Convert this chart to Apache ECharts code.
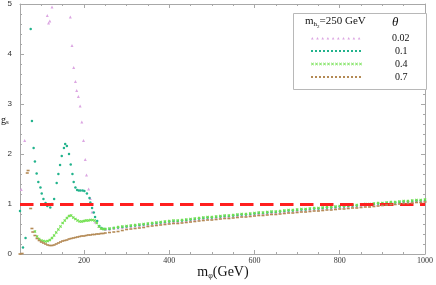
<!DOCTYPE html>
<html>
<head>
<meta charset="utf-8">
<script src="https://cdn.jsdelivr.net/npm/echarts@6/dist/echarts.min.js"></script>
<style>html,body{margin:0;padding:0;background:#fff}#c{width:436px;height:285px}</style>
</head>
<body>
<div id="c"></div>
<script>
// ---- data ----
const xTickLabels = [200, 400, 600, 800, 1000];
const refLine = [1];
const thetaNames = ['0.02', '0.1', '0.4', '0.7'];

// high-mass common grid (GeV)
const massHigh = [250,260,270,280,290,300,310,320,330,340,350,360,370,380,390,400,410,420,430,440,450,460,470,480,490,500,510,520,530,540,550,560,570,580,590,600,610,620,630,640,650,660,670,680,690,700,710,720,730,740,750,760,770,780,790,800,810,820,830,840,850,860,870,880,890,900,910,920,930,940,950,960,970,980,990,1000];

// theta = 0.02
const massLow002 = [53,61,114,117,120,125,168,172,176,180,183,187,191,195,199,203,206,211,215,219,226,235,242];
const gLow002 = [1.29,2.27,4.77,4.62,4.66,4.94,4.74,4.17,3.73,3.45,3.27,3.15,2.96,2.64,2.27,1.89,1.58,1.30,1.11,0.84,0.64,0.55,0.51];
const gHigh002 = [.49,.50,.51,.52,.53,.54,.55,.56,.57,.58,.59,.60,.61,.62,.63,.64,.65,.65,.66,.67,.68,.69,.70,.71,.72,.72,.73,.74,.75,.75,.76,.77,.78,.78,.79,.80,.81,.81,.82,.83,.83,.84,.85,.86,.86,.87,.88,.88,.89,.90,.90,.91,.92,.92,.93,.94,.94,.95,.96,.96,.97,.98,.98,.99,1.00,1.00,1.01,1.02,1.02,1.03,1.04,1.04,1.05,1.06,1.06,1.07];

// theta = 0.1
const massLow01 = [50,57,63,75,78,82,85,89,93,98,101,105,110,114,121,125,130,136,140,144,148,153,156,160,165,169,173,176,180,184,188,192,197,201,207,213,215,219,223,226,231,236,241,245];
const gLow01 = [0.86,0.13,0.32,4.50,2.66,2.12,1.85,1.61,1.44,1.33,1.21,1.10,1.02,0.96,0.93,1.00,1.10,1.42,1.60,1.78,1.96,2.12,2.20,2.16,2.00,1.79,1.60,1.44,1.33,1.28,1.27,1.27,1.27,1.26,1.21,1.12,1.03,0.92,0.83,0.74,0.66,0.56,0.52,0.50];
const gHigh01 = [.50,.50,.52,.53,.54,.55,.56,.57,.58,.59,.60,.61,.62,.63,.64,.65,.66,.66,.67,.68,.69,.70,.71,.72,.73,.73,.74,.75,.76,.76,.77,.78,.79,.79,.80,.81,.82,.82,.83,.84,.84,.85,.86,.87,.87,.88,.89,.89,.90,.91,.91,.92,.93,.93,.94,.95,.95,.96,.97,.97,.98,.99,.99,1.00,1.01,1.01,1.02,1.03,1.03,1.04,1.05,1.05,1.06,1.07,1.07,1.08];

// theta = 0.4
const massLow04 = [85,90,95,100,105,110,115,120,125,130,135,140,145,150,155,160,165,170,175,180,185,190,195,200,205,210,215,220,225,230,235,240,245];
const gLow04 = [0.45,0.35,0.30,0.27,0.26,0.25,0.26,0.28,0.32,0.37,0.43,0.49,0.55,0.62,0.67,0.72,0.76,0.77,0.73,0.70,0.67,0.65,0.65,0.66,0.67,0.67,0.68,0.68,0.67,0.62,0.55,0.51,0.50];
const gHigh04 = [.50,.51,.52,.54,.55,.56,.57,.58,.59,.60,.61,.62,.63,.64,.65,.66,.67,.67,.68,.69,.70,.71,.72,.73,.74,.74,.75,.76,.77,.77,.78,.79,.80,.80,.81,.82,.83,.83,.84,.85,.85,.86,.87,.88,.88,.89,.90,.90,.91,.92,.92,.93,.94,.94,.95,.96,.96,.97,.98,.98,.99,1.00,1.00,1.01,1.02,1.02,1.03,1.04,1.04,1.05,1.06,1.06,1.07,1.08,1.08,1.09];

// theta = 0.7
const massLow07 = [50,55,67,69,75,78,80,85,90,95,100,105,110,115,120,125,130,135,140,145,150,155,160,165,170,175,180,185,190,195,200,205,210,215,220,225,230,235,240,245];
const gLow07 = [0.00,0.01,1.62,1.67,0.91,0.51,0.44,0.37,0.31,0.27,0.24,0.22,0.20,0.18,0.17,0.17,0.18,0.20,0.22,0.24,0.26,0.27,0.28,0.30,0.31,0.32,0.33,0.34,0.35,0.36,0.36,0.37,0.38,0.38,0.39,0.39,0.40,0.40,0.41,0.41];
const gHigh07 = [.42,.43,.44,.45,.47,.49,.50,.51,.52,.53,.55,.56,.57,.58,.59,.60,.61,.61,.62,.63,.64,.65,.66,.67,.68,.68,.69,.70,.71,.71,.72,.73,.74,.74,.75,.76,.77,.77,.78,.79,.79,.80,.81,.82,.82,.83,.84,.84,.85,.86,.86,.87,.88,.88,.89,.90,.90,.91,.92,.92,.93,.94,.94,.95,.96,.97,.98,.99,.99,1.00,1.01,1.01,1.02,1.03,1.03,1.04];

// ---- build ----
function pairs(mLow, gLow, gHigh) {
  const out = mLow.map((m, i) => [m, gLow[i]]);
  massHigh.forEach((m, i) => out.push([m, gHigh[i]]));
  return out;
}
const colors = ['#dca6e2', '#22b38c', '#72e050', '#b48a55'];
const xSym = 'path://M0,1L1,0L2,1L3,0L4,1L3,2L4,3L3,4L2,3L1,4L0,3L1,2Z';
const symbols = ['triangle', 'circle', xSym, 'rect'];
const symSizes = [3, 2.5, 3, [3, 1.6]];
const datasets = [
  pairs(massLow002, gLow002, gHigh002),
  pairs(massLow01, gLow01, gHigh01),
  pairs(massLow04, gLow04, gHigh04),
  pairs(massLow07, gLow07, gHigh07)
];

function iconPath(kind) {
  let p = 'path://';
  const n = kind === 0 ? 10 : 13;
  const step = 52 / n;
  for (let i = 0; i < n; i++) {
    const x = i * step;
    if (kind === 0) p += `M${x},3L${x+1.3},0.6L${x+2.6},3Z`;
    else if (kind === 2) p += `M${x},0.5L${x+0.5},0L${x+1.5},1L${x+2.5},0L${x+3},0.5L${x+2},1.5L${x+3},2.5L${x+2.5},3L${x+1.5},2L${x+0.5},3L${x},2.5L${x+1},1.5Z`;
    else p += `M${x},0.6h2v2h-2Z`;
  }
  p += 'M0,0h0.01v3h-0.01Z M51.99,0h0.01v3h-0.01Z';
  return p;
}

const serif = 'Liberation Serif';
const axisGray = '#a8a8a8';
const chart = echarts.init(document.getElementById('c'), null, {renderer: 'canvas'});

const series = datasets.map((d, k) => ({
  name: thetaNames[k],
  type: 'scatter',
  data: d,
  symbol: symbols[k],
  symbolSize: symSizes[k],
  itemStyle: {color: colors[k], opacity: 1},
  silent: true,
  animation: false,
  z: 2 + k
}));
series.push({
  type: 'line',
  data: [],
  silent: true,
  animation: false,
  z: 10,
  markLine: {
    silent: true,
    symbol: ['none', 'none'],
    label: {show: false},
    animation: false,
    lineStyle: {color: '#ff1f1f', width: 3, type: [13.5, 6.5]},
    data: refLine.map(v => ({yAxis: v}))
  }
});

const xBase = {type: 'value', min: 50, max: 1000, splitLine: {show: false}};
const yBase = {type: 'value', min: 0, max: 5, interval: 1, splitLine: {show: false}};

const option = {
  animation: false,
  grid: {left: 20, right: 3, top: 3, bottom: 31},
  xAxis: [
    Object.assign({}, xBase, {
      position: 'bottom', interval: 50,
      axisLine: {show: true, lineStyle: {color: axisGray}},
      axisTick: {show: true, inside: true, length: 2, lineStyle: {color: axisGray}},
      axisLabel: {customValues: xTickLabels, formatter: v => String(v), hideOverlap: false,
        fontFamily: serif, fontSize: 8, color: '#333', margin: 3}
    }),
    Object.assign({}, xBase, {
      position: 'bottom',
      axisLine: {show: false},
      axisTick: {show: true, inside: true, length: 4, customValues: xTickLabels, lineStyle: {color: axisGray}},
      axisLabel: {show: false}
    }),
    Object.assign({}, xBase, {
      position: 'top', interval: 50,
      axisLine: {show: true, lineStyle: {color: axisGray}},
      axisTick: {show: true, inside: true, length: 2, lineStyle: {color: axisGray}},
      axisLabel: {show: false}
    }),
    Object.assign({}, xBase, {
      position: 'top',
      axisLine: {show: false},
      axisTick: {show: true, inside: true, length: 4, customValues: xTickLabels, lineStyle: {color: axisGray}},
      axisLabel: {show: false}
    })
  ],
  yAxis: [
    Object.assign({}, yBase, {
      position: 'left',
      axisLine: {show: true, lineStyle: {color: axisGray}},
      axisTick: {show: true, inside: true, length: 4, lineStyle: {color: axisGray}},
      minorTick: {show: true, splitNumber: 5, length: 2, lineStyle: {color: axisGray}},
      axisLabel: {show: true, fontSize: 8, color: '#333', margin: 8}
    }),
    Object.assign({}, yBase, {
      position: 'right',
      axisLine: {show: true, lineStyle: {color: axisGray}},
      axisTick: {show: true, inside: true, length: 4, lineStyle: {color: axisGray}},
      minorTick: {show: true, splitNumber: 5, length: 2, lineStyle: {color: axisGray}},
      axisLabel: {show: false}
    })
  ],
  legend: {
    orient: 'vertical',
    left: 306, top: 28,
    itemWidth: 52, itemHeight: 3, itemGap: 3,
    selectedMode: false,
    data: thetaNames.map((n, k) => ({
      name: n,
      icon: iconPath(k === 0 ? 0 : (k === 2 ? 2 : 1)),
      itemStyle: {color: colors[k]},
      textStyle: {padding: [0, 0, 0, n.length === 4 ? 24 : 27]}
    })),
    textStyle: {fontFamily: serif, fontSize: 10, color: '#111'},
    z: 20
  },
  graphic: [
    {type: 'rect', left: 293, top: 13, z: 15, shape: {width: 133, height: 76}, style: {fill: '#fff', stroke: '#b8b8b8', lineWidth: 1}},
    {type: 'text', left: 305, top: 16, z: 21, style: {
      text: '{m|m}{h|h}{t|2}{m|=250 GeV}',
      rich: {
        m: {fontFamily: serif, fontSize: 11, fill: '#111'},
        h: {fontFamily: serif, fontSize: 7, fill: '#111', padding: [6, 0, 0, 0]},
        t: {fontFamily: serif, fontSize: 5, fill: '#111', padding: [10, 0, 0, 0]}
      }
    }},
    {type: 'text', left: 392, top: 16, z: 21, style: {text: 'θ', fontFamily: serif, fontStyle: 'italic', fontSize: 13, fill: '#111'}},
    {type: 'text', x: 223, y: 272, z: 21, style: {
      text: '{m|m}{p|φ}{m|(GeV)}',
      align: 'center', verticalAlign: 'middle',
      rich: {
        m: {fontFamily: serif, fontSize: 14, fill: '#111'},
        p: {fontFamily: serif, fontSize: 8, fill: '#111', padding: [7, 0, 0, 0]}
      }
    }},
    {type: 'text', left: 1, top: 115, z: 21, style: {
      text: '{g|g}{s|s}',
      rich: {
        g: {fontFamily: serif, fontSize: 10, fill: '#111'},
        s: {fontFamily: serif, fontSize: 7, fill: '#111', padding: [5, 0, 0, 0]}
      }
    }}
  ],
  series: series
};
chart.setOption(option);
</script>
</body>
</html>
